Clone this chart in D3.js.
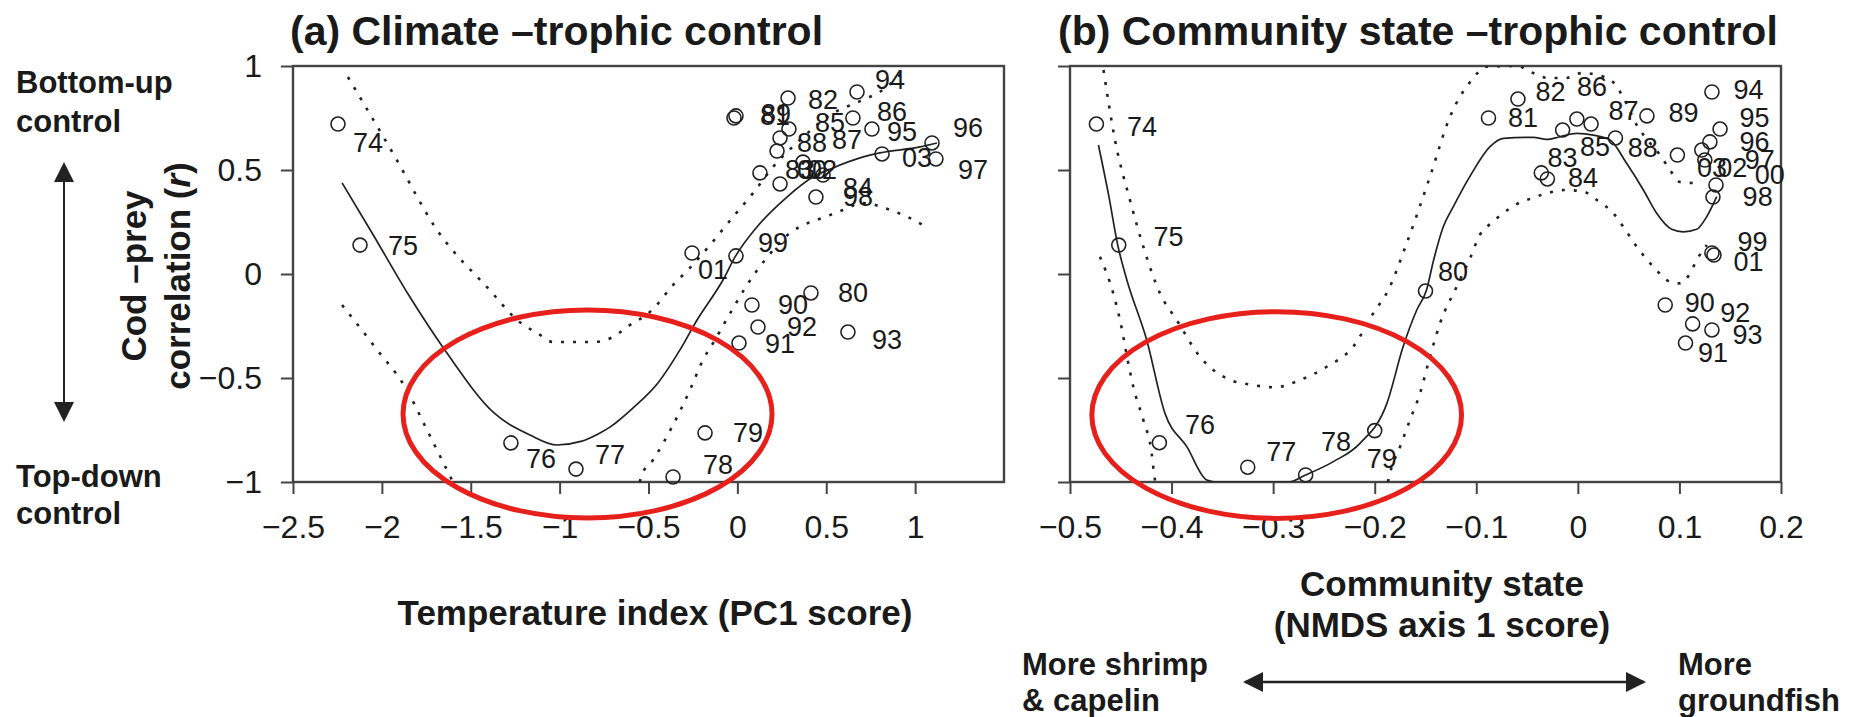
<!DOCTYPE html>
<html>
<head>
<meta charset="utf-8">
<script src="https://cdn.jsdelivr.net/npm/d3@7"></script>
<style>
  body { margin: 0; background: #fff; }
  svg { font-family: "Liberation Sans", Arial, sans-serif; }
</style>
</head>
<body>
<svg id="chart"></svg>
<script>
// ---- panel (a): temperature index vs cod-prey correlation ----
const yearsA  = ["74","75","76","77","78","79","80","81","82","83","84","85","86","87","88","89","90","91","92","93","94","95","96","97","98","99","00","01","02","03"];
const tempA   = [-2.247,-2.123,-1.274,-0.908,-0.362,-0.182,0.414,-0.019,0.285,0.127,0.482,0.290,0.650,0.223,0.240,-0.008,0.082,0.009,0.116,0.622,0.673,0.757,1.095,1.117,0.442,-0.008,0.240,-0.255,0.369,0.814];
const corrA   = [0.721,0.139,-0.812,-0.938,-0.976,-0.764,-0.091,0.750,0.846,0.486,0.476,0.697,0.750,0.591,0.654,0.760,-0.149,-0.332,-0.255,-0.279,0.875,0.697,0.630,0.553,0.370,0.087,0.433,0.101,0.538,0.577];
// where each year label sits (data units)
const labXA   = [-2.078,-1.881,-1.105,-0.717,-0.109,0.060,0.650,0.212,0.482,0.352,0.679,0.521,0.870,0.617,0.420,0.217,0.313,0.240,0.364,0.842,0.859,0.926,1.297,1.326,0.679,0.200,0.420,-0.137,0.476,1.011];
const labYA   = [0.630,0.139,-0.885,-0.870,-0.918,-0.764,-0.091,0.764,0.841,0.500,0.418,0.726,0.779,0.644,0.630,0.769,-0.149,-0.332,-0.255,-0.317,0.933,0.683,0.702,0.500,0.370,0.149,0.500,0.019,0.500,0.558];

const fitA = [[-2.224,0.438],[-2.050,0.190],[-1.850,-0.100],[-1.634,-0.380],[-1.369,-0.668],[-1.167,-0.774],[-1.015,-0.822],[-0.880,-0.805],[-0.773,-0.764],[-0.717,-0.736],[-0.587,-0.644],[-0.447,-0.524],[-0.323,-0.365],[-0.227,-0.221],[-0.081,-0.029],[-0.013,0.082],[0.110,0.226],[0.279,0.370],[0.425,0.466],[0.538,0.510],[0.690,0.558],[0.802,0.582],[1.027,0.611],[1.123,0.630]];
const upperA = [[-2.191,0.947],[-1.926,0.563],[-1.701,0.226],[-1.380,-0.090],[-1.257,-0.207],[-1.110,-0.293],[-1.037,-0.327],[-0.812,-0.327],[-0.700,-0.303],[-0.621,-0.255],[-0.480,-0.173],[-0.362,-0.053],[-0.267,0.029],[-0.154,0.139],[-0.025,0.274],[0.088,0.389],[0.200,0.514],[0.352,0.644],[0.521,0.764],[0.707,0.837],[0.800,0.875],[0.932,0.971]];
const lowerA1 = [[-2.224,-0.149],[-2.039,-0.351],[-1.859,-0.558],[-1.746,-0.750],[-1.634,-0.942],[-1.600,-1.000]];
const lowerA2 = [[-0.550,-1.000],[-0.537,-0.966],[-0.475,-0.894],[-0.368,-0.736],[-0.267,-0.558],[-0.193,-0.413],[-0.126,-0.317],[-0.053,-0.207],[0.003,-0.125],[0.054,-0.053],[0.155,0.067],[0.296,0.197],[0.397,0.245],[0.493,0.274],[0.594,0.308],[0.707,0.341],[0.859,0.308],[0.971,0.269],[1.072,0.221]];

// ---- panel (b): community state vs cod-prey correlation ----
const yearsB  = yearsA;
const stateB  = [-0.474,-0.452,-0.412,-0.325,-0.268,-0.200,-0.150,-0.088,-0.059,-0.036,-0.030,-0.015,-0.001,0.013,0.037,0.068,0.086,0.106,0.113,0.132,0.132,0.140,0.130,0.122,0.133,0.132,0.136,0.134,0.098,0.125];
const corrB   = [0.721,0.139,-0.811,-0.929,-0.966,-0.753,-0.082,0.750,0.841,0.486,0.457,0.692,0.745,0.721,0.654,0.760,-0.149,-0.332,-0.240,-0.269,0.875,0.697,0.635,0.596,0.370,0.101,0.428,0.091,0.572,0.548];
const labXB   = [-0.429,-0.403,-0.372,-0.292,-0.238,-0.193,-0.123,-0.054,-0.027,-0.015,0.005,0.017,0.014,0.045,0.064,0.104,0.120,0.133,0.155,0.167,0.168,0.174,0.174,0.179,0.177,0.172,0.189,0.168,0.152,0.132];
const labYB   = [0.708,0.179,-0.726,-0.854,-0.806,-0.886,0.011,0.750,0.875,0.558,0.462,0.611,0.899,0.788,0.606,0.774,-0.139,-0.380,-0.183,-0.293,0.889,0.750,0.635,0.548,0.370,0.154,0.476,0.058,0.514,0.514];

const fitB = [[-0.472,0.620],[-0.462,0.380],[-0.453,0.139],[-0.444,-0.029],[-0.4245,-0.317],[-0.4065,-0.670],[-0.385,-0.830],[-0.3654,-0.990],[-0.355,-1.000],[-0.285,-1.000],[-0.268,-0.966],[-0.2407,-0.902],[-0.2145,-0.814],[-0.188,-0.622],[-0.172,-0.349],[-0.1586,-0.173],[-0.149,-0.077],[-0.142,0.067],[-0.1325,0.227],[-0.1226,0.324],[-0.1045,0.484],[-0.0865,0.612],[-0.0734,0.652],[-0.044,0.657],[-0.0307,0.647],[-0.0176,0.660],[-0.0011,0.676],[0.0152,0.668],[0.0317,0.644],[0.048,0.532],[0.0645,0.404],[0.0776,0.292],[0.0924,0.215],[0.1038,0.203],[0.117,0.215],[0.1269,0.276],[0.1367,0.372]];
const upperB = [[-0.467,0.981],[-0.4557,0.644],[-0.441,0.356],[-0.4278,0.131],[-0.4114,-0.093],[-0.395,-0.221],[-0.372,-0.398],[-0.3457,-0.502],[-0.3195,-0.534],[-0.2982,-0.545],[-0.2736,-0.510],[-0.2473,-0.446],[-0.2211,-0.349],[-0.2014,-0.189],[-0.1866,-0.077],[-0.1685,0.148],[-0.1456,0.468],[-0.1259,0.756],[-0.1045,0.933],[-0.0897,0.997],[-0.060,1.000],[-0.044,0.966],[-0.029,0.942],[-0.0127,0.942],[0.004,0.966],[0.019,0.957],[0.0346,0.923],[0.0445,0.851],[0.058,0.716],[0.071,0.630],[0.081,0.572],[0.0907,0.500],[0.1006,0.442],[0.1153,0.437]];
const lowerB1 = [[-0.4705,0.083],[-0.4574,-0.093],[-0.4508,-0.221],[-0.4426,-0.429],[-0.4377,-0.542],[-0.4278,-0.702],[-0.4196,-0.862],[-0.4173,-0.958],[-0.416,-1.000]];
const lowerB2 = [[-0.187,-1.000],[-0.185,-0.958],[-0.175,-0.830],[-0.1653,-0.702],[-0.1554,-0.574],[-0.1456,-0.398],[-0.1357,-0.237],[-0.1193,-0.061],[-0.1062,0.075],[-0.0963,0.190],[-0.0865,0.240],[-0.0734,0.292],[-0.0619,0.332],[-0.0454,0.364],[-0.0307,0.388],[-0.0127,0.404],[0.0054,0.396],[0.0186,0.356],[0.0349,0.292],[0.0448,0.227],[0.058,0.131],[0.0743,0.035],[0.0907,-0.037],[0.1006,-0.045],[0.1104,0.003],[0.117,0.067],[0.1269,0.139]];

// ticks
const ticksXA = [-2.5,-2,-1.5,-1,-0.5,0,0.5,1];
const ticksXB = [-0.5,-0.4,-0.3,-0.2,-0.1,0,0.1,0.2];
const ticksY  = [-1,-0.5,0,0.5,1];

// red highlight ellipses [cx, cy, rx, ry] in data units
const ringA = [-0.843,-0.673,1.038,0.500];
const ringB = [-0.2965,-0.678,0.182,0.497];

const width = 1859, height = 717;
const svg = d3.select("#chart").attr("width", width).attr("height", height);

const fmt = d => d3.format("")(d);
const ink = "#1a1a1a";

let y = d3.scaleLinear().domain([-1, 1]).range([482, 66]);

function panel(id, x, o) {
  const g = svg.append("g");
  const [x0, x1] = x.range();

  g.append("clipPath").attr("id", "clip" + id)
    .append("rect").attr("x", x0).attr("y", 66).attr("width", x1 - x0).attr("height", 416);

  // x axis
  g.append("g")
    .attr("transform", "translate(0,482)")
    .call(d3.axisBottom(x).tickValues(o.ticksX).tickFormat(fmt).tickSize(12).tickPadding(21))
    .call(a => a.select(".domain").remove())
    .call(a => a.selectAll("line").attr("stroke", "#444").attr("stroke-width", 2))
    .call(a => a.selectAll("text").attr("font-size", 32).attr("fill", ink));

  // y axis
  let ya = d3.axisLeft(y).tickValues(ticksY).tickSize(12).tickPadding(19);
  ya = o.yLabels ? ya.tickFormat(fmt) : ya.tickFormat("");
  g.append("g")
    .attr("transform", `translate(${x0},0)`)
    .call(ya)
    .call(a => a.select(".domain").remove())
    .call(a => a.selectAll("line").attr("stroke", "#444").attr("stroke-width", 2))
    .call(a => a.selectAll("text").attr("font-size", 32).attr("fill", ink));

  // box
  g.append("rect")
    .attr("x", x0).attr("y", 66).attr("width", x1 - x0).attr("height", 416)
    .attr("fill", "none").attr("stroke", "#444").attr("stroke-width", 2.4);

  const line = d3.line().x(d => x(d[0])).y(d => y(d[1])).curve(d3.curveMonotoneX);
  const plot = g.append("g").attr("clip-path", `url(#clip${id})`);

  o.bands.forEach(b => {
    plot.append("path").attr("d", line(b))
      .attr("fill", "none").attr("stroke", "#222").attr("stroke-width", 2.6)
      .attr("stroke-dasharray", "3,9");
  });
  plot.append("path").attr("d", line(o.fit))
    .attr("fill", "none").attr("stroke", "#222").attr("stroke-width", 1.7);

  const pts = o.years.map((yr, i) => ({ yr, px: o.xs[i], py: o.ys[i], lx: o.lx[i], ly: o.ly[i] }));

  g.append("g").selectAll("circle").data(pts).join("circle")
    .attr("cx", d => x(d.px)).attr("cy", d => y(d.py)).attr("r", 7)
    .attr("fill", "none").attr("stroke", "#222").attr("stroke-width", 1.6);

  g.append("g").selectAll("text").data(pts).join("text")
    .attr("x", d => x(d.lx)).attr("y", d => y(d.ly)).attr("dy", "0.35em")
    .attr("text-anchor", "middle").attr("font-size", 27).attr("fill", ink)
    .text(d => d.yr);

  // highlight ring
  const r = o.ring;
  g.append("ellipse")
    .attr("cx", x(r[0])).attr("cy", y(r[1]))
    .attr("rx", x(r[0] + r[2]) - x(r[0])).attr("ry", y(r[1]) - y(r[1] + r[3]))
    .attr("fill", "none").attr("stroke", "#e8201c").attr("stroke-width", 5);

  // title
  g.append("text").attr("x", o.titleX).attr("y", 45)
    .attr("font-size", 41).attr("font-weight", "bold").attr("fill", ink)
    .text(o.title);
}

const xA = d3.scaleLinear().domain([-2.5, 1.5]).range([293, 1004]);
const xB = d3.scaleLinear().domain([-0.5, 0.2]).range([1070, 1781]);

panel("a", xA, {
  ticksX: ticksXA, yLabels: true, years: yearsA, xs: tempA, ys: corrA, lx: labXA, ly: labYA,
  fit: fitA, bands: [upperA, lowerA1, lowerA2], ring: ringA,
  title: "(a) Climate –trophic control", titleX: 290
});
panel("b", xB, {
  ticksX: ticksXB, yLabels: false, years: yearsB, xs: stateB, ys: corrB, lx: labXB, ly: labYB,
  fit: fitB, bands: [upperB, lowerB1, lowerB2], ring: ringB,
  title: "(b) Community state –trophic control", titleX: 1058
});

// axis titles
const bold = (sel) => sel.attr("font-weight", "bold").attr("font-size", 35).attr("fill", ink);

svg.append("text").call(bold)
  .attr("x", 655).attr("y", 625).attr("text-anchor", "middle")
  .text("Temperature index (PC1 score)");

svg.append("text").call(bold)
  .attr("x", 1442).attr("y", 596).attr("text-anchor", "middle")
  .text("Community state");
svg.append("text").call(bold)
  .attr("x", 1442).attr("y", 637).attr("text-anchor", "middle")
  .text("(NMDS axis 1 score)");

const yt = svg.append("g").attr("transform", "translate(0,276)");
yt.append("text").call(bold)
  .attr("transform", "translate(146,0) rotate(-90)").attr("text-anchor", "middle")
  .text("Cod –prey");
const yt2 = yt.append("text").call(bold)
  .attr("transform", "translate(190,0) rotate(-90)").attr("text-anchor", "middle");
yt2.append("tspan").text("correlation (");
yt2.append("tspan").attr("font-style", "italic").text("r");
yt2.append("tspan").text(")");

// side notes
const note = (x, yy, t) => svg.append("text").attr("x", x).attr("y", yy)
  .attr("font-size", 31).attr("font-weight", "bold").attr("fill", ink).text(t);
note(16, 93, "Bottom-up");
note(16, 132, "control");
note(16, 487, "Top-down");
note(16, 524, "control");
note(1022, 675, "More shrimp");
note(1022, 711, "& capelin");
note(1678, 675, "More");
note(1678, 711, "groundfish");

// arrows
const defs = svg.append("defs");
defs.append("marker").attr("id", "head")
  .attr("viewBox", "0 0 20 20").attr("refX", 18).attr("refY", 10)
  .attr("markerWidth", 20).attr("markerHeight", 20).attr("markerUnits", "userSpaceOnUse")
  .attr("orient", "auto-start-reverse")
  .append("path").attr("d", "M0,0 L20,10 L0,20 Z").attr("fill", "#222");

svg.append("line").attr("x1", 64).attr("x2", 64).attr("y1", 164).attr("y2", 420)
  .attr("stroke", "#222").attr("stroke-width", 2)
  .attr("marker-start", "url(#head)").attr("marker-end", "url(#head)");
svg.append("line").attr("x1", 1245).attr("x2", 1644).attr("y1", 682).attr("y2", 682)
  .attr("stroke", "#222").attr("stroke-width", 2.4)
  .attr("marker-start", "url(#head)").attr("marker-end", "url(#head)");
</script>
</body>
</html>
